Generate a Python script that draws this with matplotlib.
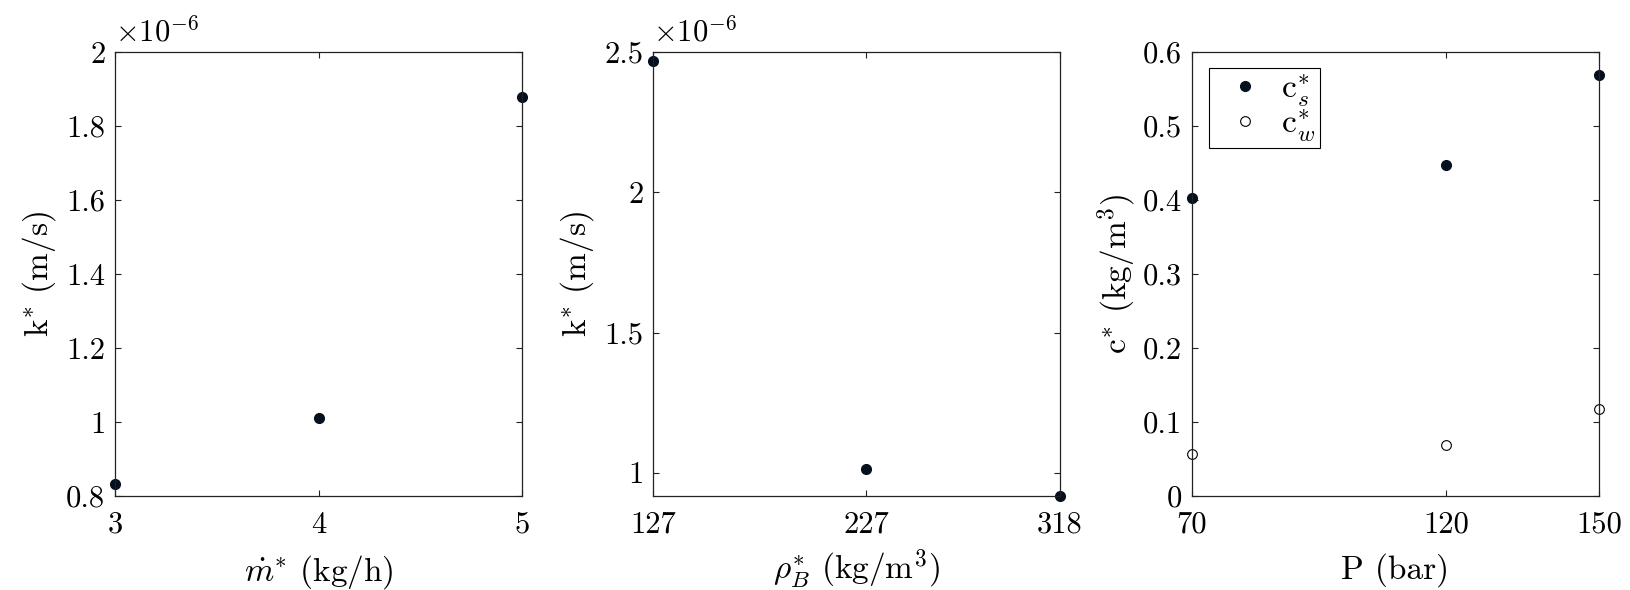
import numpy as np
import matplotlib
matplotlib.use("Agg")
import matplotlib.pyplot as plt
from matplotlib.ticker import FuncFormatter

# =========================
# Date
# =========================
m_dot = [3, 4, 5]                          # kg/h
k_m = [0.832e-6, 1.012e-6, 1.878e-6]       # m/s

rho_B = [127, 227, 318]                    # kg/m^3
k_rho = [2.468e-6, 1.014e-6, 0.917e-6]     # m/s

P = [70, 120, 150]                         # bar
c_s = [0.403, 0.447, 0.569]                # kg/m^3
c_w = [0.057, 0.069, 0.117]                # kg/m^3

y1_ticks = [0.8, 1.0, 1.2, 1.4, 1.6, 1.8, 2.0]
y2_ticks = [1.0, 1.5, 2.0, 2.5]
y3_ticks = [0, 0.1, 0.2, 0.3, 0.4, 0.5, 0.6]

# =========================
# Stil (aspect MATLAB / LaTeX)
# =========================
plt.rcParams["font.family"] = "serif"
plt.rcParams["font.serif"] = ["cmr10", "DejaVu Serif"]
plt.rcParams["mathtext.fontset"] = "cm"
plt.rcParams["axes.unicode_minus"] = False
plt.rcParams["axes.formatter.use_mathtext"] = True

FS_TICK = 22
FS_LAB = 24
dark = "#04101e"
scale = 1e-6
MS = 7

fig = plt.figure(figsize=(16.3, 5.9), dpi=100)
lefts = [0.0706, 0.4006, 0.7313]
axs = [fig.add_axes([l, 0.1593, 0.2497, 0.7525]) for l in lefts]

fmt = FuncFormatter(lambda v, p: "%g" % round(v, 6))


def style(ax):
    ax.tick_params(direction="in", top=True, right=True, length=4,
                   width=0.8, labelsize=FS_TICK, pad=7, color="#222222")
    ax.tick_params(axis="x", pad=11)
    for s in ax.spines.values():
        s.set_linewidth(0.9)
        s.set_color("#222222")
    ax.xaxis.set_major_formatter(fmt)
    ax.yaxis.set_major_formatter(fmt)


# =========================
# Panou 1: k* vs m_dot*
# =========================
ax = axs[0]
ax.plot(m_dot, np.array(k_m) / scale, "o", color=dark, ms=MS, clip_on=False)
ax.set_xlim(min(m_dot), max(m_dot))
ax.set_ylim(y1_ticks[0], y1_ticks[-1])
ax.set_xticks(m_dot)
ax.set_yticks(y1_ticks)
ax.set_xlabel(r"$\dot{m}^{*}$ (kg/h)", fontsize=FS_LAB, labelpad=10)
ax.set_ylabel(r"k$^{*}$ (m/s)", fontsize=FS_LAB, labelpad=6)
ax.text(0, 1.012, r"$\times10^{-6}$", transform=ax.transAxes,
        fontsize=FS_TICK, ha="left", va="bottom")
style(ax)

# =========================
# Panou 2: k* vs rho_B*
# =========================
ax = axs[1]
ax.plot(rho_B, np.array(k_rho) / scale, "o", color=dark, ms=MS, clip_on=False)
ax.set_xlim(min(rho_B), max(rho_B))
ax.set_ylim(min(k_rho) / scale, y2_ticks[-1])
ax.set_xticks(rho_B)
ax.set_yticks(y2_ticks)
ax.set_xlabel(r"$\rho^{*}_{B}$ (kg/m$^{3}$)", fontsize=FS_LAB, labelpad=6)
ax.set_ylabel(r"k$^{*}$ (m/s)", fontsize=FS_LAB, labelpad=6)
ax.text(0, 1.012, r"$\times10^{-6}$", transform=ax.transAxes,
        fontsize=FS_TICK, ha="left", va="bottom")
style(ax)

# =========================
# Panou 3: c* vs P
# =========================
ax = axs[2]
ax.plot(P, c_s, "o", color=dark, ms=MS, clip_on=False,
        label=r"c$^{*}_{s}$")
ax.plot(P, c_w, "o", mfc="none", mec="black", mew=0.8, ms=MS,
        clip_on=False, label=r"c$^{*}_{w}$")
ax.set_xlim(min(P), max(P))
ax.set_ylim(y3_ticks[0], y3_ticks[-1])
ax.set_xticks(P)
ax.set_yticks(y3_ticks)
ax.set_xlabel("P (bar)", fontsize=FS_LAB, labelpad=10)
ax.set_ylabel(r"c$^{*}$ (kg/m$^{3}$)", fontsize=FS_LAB, labelpad=4)
leg = ax.legend(loc="upper left", bbox_to_anchor=(0.042, 0.964),
                fontsize=24, frameon=True, fancybox=False,
                edgecolor="black", framealpha=1, borderpad=0.12,
                handlelength=1.9, handletextpad=0.15, labelspacing=-0.05,
                borderaxespad=0)
leg.get_frame().set_linewidth(0.8)
style(ax)

fig.savefig("out.png", dpi=100)
